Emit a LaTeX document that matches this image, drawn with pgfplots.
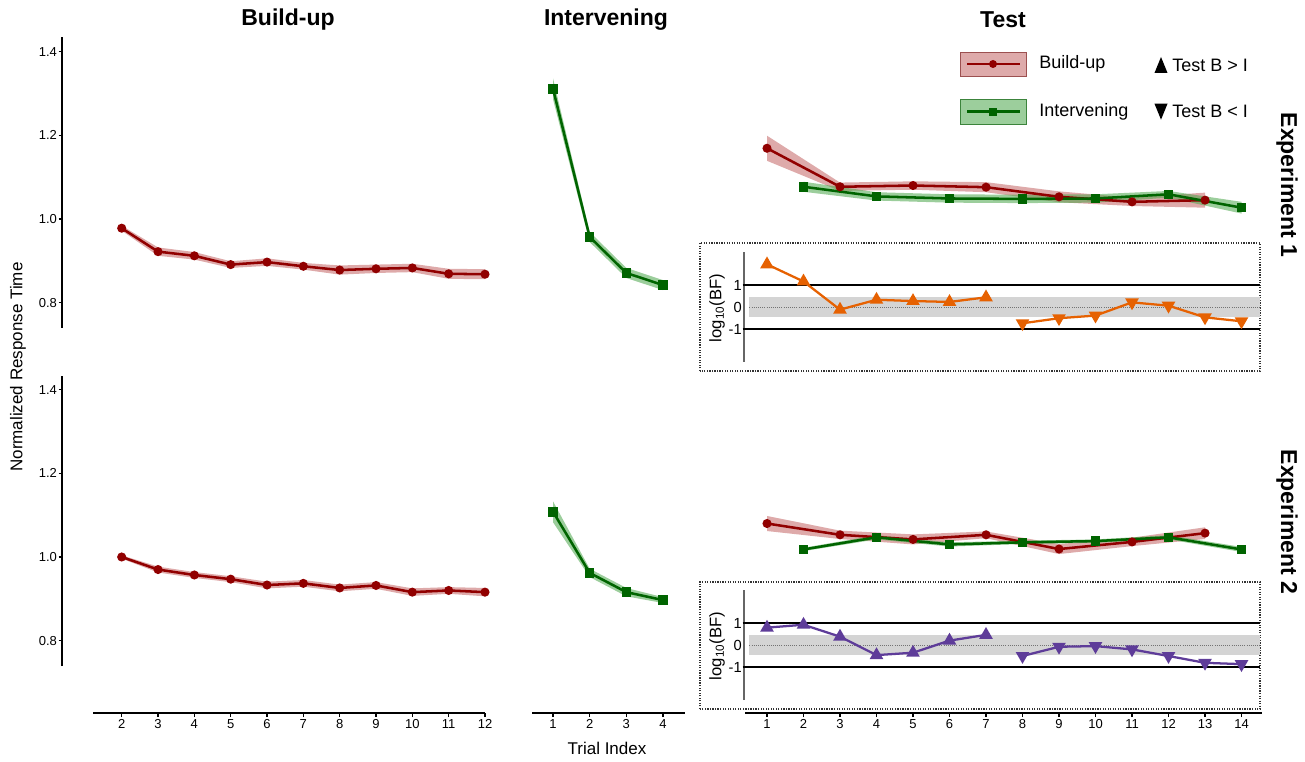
\documentclass[border=0pt]{standalone}
\usepackage{pgfplots}
\pgfplotsset{compat=1.18}
\usepackage{pgfplotstable}
\usepgfplotslibrary{fillbetween}
\usepackage{fontspec}
\setmainfont{Liberation Sans}
\definecolor{bred}{RGB}{145,0,0}
\definecolor{bredfill}{RGB}{195,100,100}
\definecolor{igreen}{RGB}{0,100,0}
\definecolor{igreenfill}{RGB}{75,165,75}
\definecolor{bforange}{RGB}{230,97,1}
\definecolor{bfpurple}{RGB}{94,60,153}

% Experiment 1
\pgfplotstableread{
x y se
2 0.978 0.006
3 0.922 0.010
4 0.912 0.009
5 0.891 0.008
6 0.897 0.009
7 0.887 0.008
8 0.878 0.011
9 0.881 0.010
10 0.883 0.010
11 0.869 0.012
12 0.868 0.012
}\tBuA
\pgfplotstableread{
x y se
1 1.311 0.025
2 0.957 0.012
3 0.871 0.012
4 0.842 0.012
}\tInA
\pgfplotstableread{
x y se
1 1.169 0.030
3 1.077 0.010
5 1.080 0.010
7 1.076 0.012
9 1.053 0.013
11 1.041 0.010
13 1.045 0.018
}\tTBA
\pgfplotstableread{
x y se
2 1.077 0.012
4 1.054 0.010
6 1.049 0.010
8 1.048 0.010
10 1.049 0.010
12 1.059 0.008
14 1.027 0.014
}\tTIA
\pgfplotstableread{
x y
1 1.94
2 1.16
3 -0.12
4 0.33
5 0.27
6 0.23
7 0.44
}\tBFupA
\pgfplotstableread{
x y
8 -0.74
9 -0.51
10 -0.39
11 0.21
12 0.06
13 -0.47
14 -0.65
}\tBFdnA
% Experiment 2
\pgfplotstableread{
x y se
2 1.000 0.004
3 0.970 0.007
4 0.957 0.007
5 0.947 0.007
6 0.933 0.008
7 0.937 0.008
8 0.926 0.008
9 0.932 0.008
10 0.916 0.009
11 0.920 0.008
12 0.916 0.010
}\tBuB
\pgfplotstableread{
x y se
1 1.108 0.025
2 0.962 0.010
3 0.916 0.010
4 0.897 0.007
}\tInB
\pgfplotstableread{
x y se
1 1.080 0.018
3 1.053 0.010
5 1.042 0.012
7 1.053 0.008
9 1.019 0.012
11 1.036 0.010
13 1.057 0.014
}\tTBB
\pgfplotstableread{
x y se
2 1.018 0.004
4 1.047 0.005
6 1.030 0.005
8 1.035 0.004
10 1.038 0.004
12 1.047 0.005
14 1.018 0.006
}\tTIB
\pgfplotstableread{
x y
1 0.79
2 0.92
3 0.38
4 -0.46
5 -0.35
6 0.20
7 0.46
}\tBFupB
\pgfplotstableread{
x y
8 -0.50
9 -0.08
10 -0.05
11 -0.20
12 -0.50
13 -0.81
14 -0.87
}\tBFdnB

\newcommand{\ribbon}[3]{%
  \addplot[draw=none, name path=#2hi, forget plot] table[x=x, y expr=\thisrow{y}+\thisrow{se}]{#1};
  \addplot[draw=none, name path=#2lo, forget plot] table[x=x, y expr=\thisrow{y}-\thisrow{se}]{#1};
  \addplot[fill=#3, fill opacity=0.55, draw=none, forget plot] fill between[of=#2hi and #2lo];
}

\pgfplotsset{
  /pgf/number format/assume math mode=true,
  panel/.style={scale only axis, anchor=south west, clip=false, xtick=\empty},
  noy/.style={axis x line=none, axis y line=none, ytick=\empty},
  redline/.style={bred, line width=1.9pt, mark=*, mark size=2.4pt, mark options={solid}},
  greenline/.style={igreen, line width=1.9pt, mark=square*, mark size=2.6pt, mark options={solid}},
  yleft/.style={axis x line=none, axis y line*=left, ytick={0.8,1.0,1.2,1.4}, yticklabels={0.8,1.0,1.2,1.4},
    y axis line style={line width=1.5pt, black},
    tick align=outside, major tick length=2.6pt,
    every tick/.style={black, line width=1pt},
    yticklabel style={font=\fontsize{9.75}{11}\selectfont, inner xsep=1pt}},
  xonly/.style={scale only axis, anchor=south west, height=1pt, ymin=0, ymax=1,
    axis x line*=bottom, axis y line=none, ytick=\empty,
    x axis line style={line width=1.5pt, black},
    tick align=outside, major tick length=3pt,
    every tick/.style={black, line width=1pt},
    xticklabel style={font=\fontsize{9.75}{11}\selectfont, inner ysep=1.5pt}},
  bfinset/.style={scale only axis, anchor=south west, clip=false, width=387pt, height=82.5pt,
    xmin=0.37, xmax=14.507, ymin=-2.5, ymax=2.5,
    axis x line=none, xtick=\empty, axis y line*=left,
    y axis line style={line width=1pt, black!60},
    ytick={-1,0,1}, yticklabels={-1,0,1}, major tick length=0pt,
    yticklabel style={font=\fontsize{11}{12}\selectfont, inner xsep=1.5pt}},
}

\begin{document}
\begin{tikzpicture}

% ---------- Experiment 1 row ----------
\begin{axis}[panel, yleft, at={(46.5pt,324.75pt)}, width=317.25pt, height=218.25pt,
  xmin=0.357, xmax=12, ymin=0.7395, ymax=1.4349]
  \ribbon{\tBuA}{bua}{bredfill}
  \addplot[redline] table[x=x,y=y]{\tBuA};
\end{axis}
\begin{axis}[panel, noy, at={(399pt,324.75pt)}, width=114.75pt, height=218.25pt,
  xmin=0.427, xmax=4.6, ymin=0.7395, ymax=1.4349]
  \ribbon{\tInA}{ina}{igreenfill}
  \addplot[greenline] table[x=x,y=y]{\tInA};
\end{axis}
\begin{axis}[panel, noy, at={(558.75pt,324.75pt)}, width=387.75pt, height=218.25pt,
  xmin=0.397, xmax=14.56, ymin=0.7395, ymax=1.4349]
  \ribbon{\tTBA}{tba}{bredfill}
  \ribbon{\tTIA}{tia}{igreenfill}
  \addplot[redline] table[x=x,y=y]{\tTBA};
  \addplot[greenline] table[x=x,y=y]{\tTIA};
\end{axis}
% inset 1
\draw[black!80, densely dotted, line width=0.9pt, fill=white] (525pt,292.5pt) rectangle (945pt,388.5pt);
\begin{axis}[bfinset, at={(558pt,299.25pt)}]
  \fill[black!17] (axis cs:0.52,-0.477) rectangle (axis cs:14.507,0.477);
  \draw[black!55, densely dotted, line width=0.6pt] (axis cs:0.52,0) -- (axis cs:14.507,0);
  \draw[black, line width=1.5pt] (axis cs:0.33,1) -- (axis cs:14.507,1);
  \draw[black, line width=1.5pt] (axis cs:0.33,-1) -- (axis cs:14.507,-1);
  \addplot[bforange, line width=1.7pt, mark=triangle*, mark size=4.2pt, mark options={solid}] table[x=x,y=y]{\tBFupA};
  \addplot[bforange, line width=1.7pt, mark=triangle*, mark size=4.2pt, mark options={solid, rotate=180}] table[x=x,y=y]{\tBFdnA};
\end{axis}
\node[rotate=90, font=\fontsize{12.5}{14}\selectfont] at (537.75pt,339.75pt) {log\textsubscript{10}(BF)};

% ---------- Experiment 2 row ----------
\begin{axis}[panel, yleft, at={(46.5pt,71.25pt)}, width=317.25pt, height=217.5pt,
  xmin=0.357, xmax=12, ymin=0.7395, ymax=1.4325]
  \ribbon{\tBuB}{bub}{bredfill}
  \addplot[redline] table[x=x,y=y]{\tBuB};
\end{axis}
\begin{axis}[panel, noy, at={(399pt,71.25pt)}, width=114.75pt, height=217.5pt,
  xmin=0.427, xmax=4.6, ymin=0.7395, ymax=1.4325]
  \ribbon{\tInB}{inb}{igreenfill}
  \addplot[greenline] table[x=x,y=y]{\tInB};
\end{axis}
\begin{axis}[panel, noy, at={(558.75pt,71.25pt)}, width=387.75pt, height=217.5pt,
  xmin=0.397, xmax=14.56, ymin=0.7395, ymax=1.4325]
  \ribbon{\tTBB}{tbb}{bredfill}
  \ribbon{\tTIB}{tib}{igreenfill}
  \addplot[redline] table[x=x,y=y]{\tTBB};
  \addplot[greenline] table[x=x,y=y]{\tTIB};
\end{axis}
% inset 2
\draw[black!80, densely dotted, line width=0.9pt, fill=white] (525pt,39pt) rectangle (945pt,134.25pt);
\begin{axis}[bfinset, at={(558pt,45.75pt)}]
  \fill[black!17] (axis cs:0.52,-0.477) rectangle (axis cs:14.507,0.477);
  \draw[black!55, densely dotted, line width=0.6pt] (axis cs:0.52,0) -- (axis cs:14.507,0);
  \draw[black, line width=1.5pt] (axis cs:0.33,1) -- (axis cs:14.507,1);
  \draw[black, line width=1.5pt] (axis cs:0.33,-1) -- (axis cs:14.507,-1);
  \addplot[bfpurple, line width=1.7pt, mark=triangle*, mark size=4.2pt, mark options={solid}] table[x=x,y=y]{\tBFupB};
  \addplot[bfpurple, line width=1.7pt, mark=triangle*, mark size=4.2pt, mark options={solid, rotate=180}] table[x=x,y=y]{\tBFdnB};
\end{axis}
\node[rotate=90, font=\fontsize{12.5}{14}\selectfont] at (537.75pt,86.25pt) {log\textsubscript{10}(BF)};

% ---------- bottom x axes ----------
\begin{axis}[xonly, at={(69.75pt,36pt)}, width=294pt, xmin=1.21, xmax=12,
  xtick={2,3,4,5,6,7,8,9,10,11,12}, xticklabels={2,3,4,5,6,7,8,9,10,11,12}]
  \addplot[draw=none] coordinates {(2,0)};
\end{axis}
\begin{axis}[xonly, at={(399pt,36pt)}, width=114.75pt, xmin=0.427, xmax=4.6,
  xtick={1,2,3,4}, xticklabels={1,2,3,4}]
  \addplot[draw=none] coordinates {(1,0)};
\end{axis}
\begin{axis}[xonly, at={(558.75pt,36pt)}, width=387.75pt, xmin=0.397, xmax=14.56,
  xtick={1,2,3,4,5,6,7,8,9,10,11,12,13,14}, xticklabels={1,2,3,4,5,6,7,8,9,10,11,12,13,14}]
  \addplot[draw=none] coordinates {(1,0)};
\end{axis}

% ---------- titles and labels ----------
\node[font=\bfseries\fontsize{17.25}{20}\selectfont] at (216pt,555.75pt) {Build-up};
\node[font=\bfseries\fontsize{17.25}{20}\selectfont] at (454.5pt,555.75pt) {Intervening};
\node[font=\bfseries\fontsize{17.25}{20}\selectfont] at (752.25pt,555.75pt) {Test};
\node[rotate=-90, font=\bfseries\fontsize{17.25}{20}\selectfont] at (965.25pt,432pt) {Experiment 1};
\node[rotate=-90, font=\bfseries\fontsize{17.25}{20}\selectfont] at (965.25pt,179.25pt) {Experiment 2};
\node[rotate=90, font=\fontsize{12.75}{15}\selectfont] at (13.5pt,295.5pt) {Normalized Response Time};
\node[font=\fontsize{12.75}{15}\selectfont] at (455.25pt,9.75pt) {Trial Index};

% ---------- legend ----------
\draw[bredfill!80!black, line width=0.6pt, fill=bredfill, fill opacity=0.55, draw opacity=1] (720pt,513.75pt) rectangle (769.5pt,531.75pt);
\draw[bred, line width=2pt] (725.25pt,522.75pt) -- (765pt,522.75pt);
\fill[bred] (744.75pt,522.75pt) circle (3pt);
\draw[igreenfill!80!black, line width=0.6pt, fill=igreenfill, fill opacity=0.55, draw opacity=1] (720pt,477.75pt) rectangle (769.5pt,496.5pt);
\draw[igreen, line width=2pt] (725.25pt,487.1pt) -- (765pt,487.1pt);
\fill[igreen] (741.75pt,484.1pt) rectangle (747.75pt,490.1pt);
\node[anchor=west, inner sep=0pt, font=\fontsize{13.5}{16}\selectfont] at (779.25pt,522.75pt) {Build-up};
\node[anchor=west, inner sep=0pt, font=\fontsize{13.5}{16}\selectfont] at (779.25pt,487.1pt) {Intervening};
\fill[black] (865.85pt,516pt) -- (875.65pt,516pt) -- (870.75pt,528pt) -- cycle;
\fill[black] (865.85pt,493pt) -- (875.65pt,493pt) -- (870.75pt,481pt) -- cycle;
\node[anchor=west, inner sep=0pt, font=\fontsize{13.5}{16}\selectfont] at (879pt,522pt) {Test B > I};
\node[anchor=west, inner sep=0pt, font=\fontsize{13.5}{16}\selectfont] at (879pt,487pt) {Test B < I};

\pgfresetboundingbox
\useasboundingbox (0,0) rectangle (978.75pt,570.75pt);
\end{tikzpicture}
\end{document}
